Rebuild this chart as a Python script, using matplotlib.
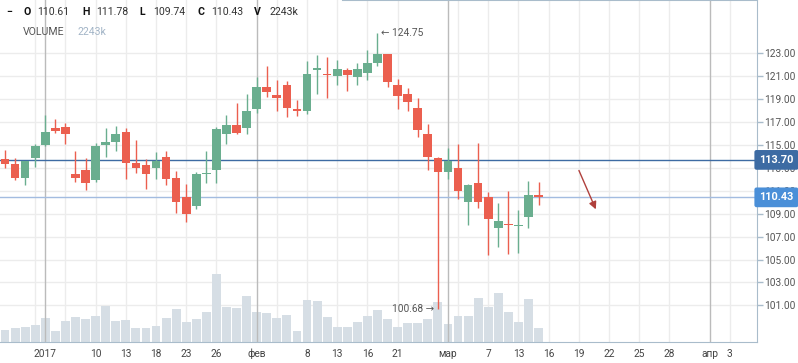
import numpy as np
import matplotlib
matplotlib.use("Agg")
import matplotlib.pyplot as plt
import matplotlib.transforms as mtransforms

plt.rcParams['font.family'] = ['Roboto', 'DejaVu Sans']

# --- данные (дневные свечи, торговые дни с конца дек. 2016 по 15 мар. 2017) ---
opens = [113.79, 113.35, 112.13, 113.85, 115.03, 116.49, 116.58, 112.48, 112.80, 111.95,
         115.03, 115.27, 116.14, 113.46, 113.26, 113.03, 113.96, 112.13, 110.47, 109.71,
         112.48, 112.85, 115.97, 116.76, 116.49, 118.15, 120.07, 119.38, 120.25, 118.15,
         117.98, 121.53, 121.21, 121.03, 121.56, 120.95, 121.30, 122.17, 122.96, 120.25,
         119.46, 118.24, 115.97, 113.87, 112.65, 113.00, 110.06, 111.69, 110.44, 107.79,
         108.11, 107.93, 108.75, 110.61]
highs = [114.57, 113.85, 113.64, 115.07, 117.66, 117.28, 116.93, 114.48, 113.87, 115.18,
         116.49, 116.67, 116.49, 115.45, 113.79, 114.40, 114.51, 112.74, 111.60, 112.65,
         114.48, 116.58, 117.63, 118.68, 119.46, 120.95, 121.91, 120.69, 120.60, 118.94,
         122.34, 122.87, 122.69, 122.43, 121.73, 122.17, 123.31, 124.75, 122.96, 120.77,
         119.99, 119.11, 116.84, 113.99, 114.75, 115.10, 111.60, 115.18, 110.90, 109.94,
         110.99, 109.33, 111.86, 111.78]
lows = [113.03, 111.95, 111.52, 113.09, 114.95, 116.03, 115.12, 111.75, 111.08, 111.78,
        113.96, 114.48, 112.04, 112.56, 111.19, 112.07, 111.54, 109.07, 108.28, 109.45,
        111.72, 111.72, 115.12, 115.97, 115.97, 117.80, 119.20, 117.98, 117.45, 117.54,
        117.72, 119.46, 119.11, 120.25, 119.72, 120.25, 120.69, 121.91, 120.07, 118.15,
        117.98, 115.71, 112.83, 100.68, 112.04, 110.32, 108.05, 109.53, 105.43, 106.13,
        105.51, 105.60, 107.79, 109.74]
closes = [113.38, 112.13, 113.64, 114.92, 116.14, 116.26, 116.00, 112.15, 111.72, 114.92,
          115.27, 115.97, 113.46, 113.00, 112.50, 113.64, 112.07, 110.03, 109.01, 112.48,
          112.56, 116.41, 116.76, 116.06, 117.98, 120.07, 119.64, 119.11, 118.24, 117.98,
          121.21, 121.71, 121.12, 121.65, 121.12, 121.65, 122.17, 122.96, 120.51, 119.29,
          118.76, 116.32, 113.96, 112.65, 113.64, 111.02, 111.52, 110.06, 108.57, 108.37,
          108.02, 108.02, 110.64, 110.43]
# объём, тыс.
volumes = [1915, 2243, 2407, 2735, 3884, 1751, 3392, 4048, 3720, 4212,
           5853, 3392, 3556, 2243, 2243, 2571, 3884, 5361, 3227, 3720,
           4869, 11105, 5689, 5525, 7494, 4869, 4705, 3884, 4376, 1751,
           6838, 6674, 4048, 2407, 2407, 3227, 4212, 5197, 3720, 2407,
           3063, 3063, 3720, 6510, 2899, 4212, 4212, 7166, 5689, 7987,
           4869, 3227, 7002, 2243]

# подписи оси X (индекс торгового дня -> подпись)
tick_pos = [4, 9, 12, 15, 18, 21, 25, 30, 33, 36, 39, 44, 48, 51, 54, 57, 60, 63, 66, 70, 72]
tick_labels = ['2017', '10', '13', '18', '23', '26', 'фев', '8', '13', '16', '21',
               'мар', '7', '13', '16', '19', '22', '25', '28', 'апр', '3']
month_pos = [4, 25, 44, 70]
grid_pos = [3, 6, 9, 12, 15, 18, 21, 27, 30, 33, 36, 39, 45, 48, 51, 54, 57, 60, 63, 66, 72]
price_ticks = [101, 103, 105, 107, 109, 111, 113, 115, 117, 119, 121, 123]

level_line = 113.70
last_close = closes[-1]
max_idx, min_idx = 37, 43
arrow_start = (56.9, 113.0)
arrow_end = (58.8, 109.16)

GREEN = '#6aae8f'
RED = '#eb5f4f'
AXIS_C = '#a9bccb'

W, H = 798, 363
fig = plt.figure(figsize=(W / 100, H / 100), dpi=100)
ax = fig.add_axes([0, 21 / H, 757 / W, 342 / H])

x = np.arange(len(opens))
o = np.array(opens); c = np.array(closes)
hi = np.array(highs); lo = np.array(lows)
vol = np.array(volumes)

# сетка
for p in grid_pos:
    ax.axvline(p, color='#ececec', lw=1, zorder=0.5)
for p in price_ticks:
    ax.axhline(p, color='#ececec', lw=1, zorder=0.5)

# объём внизу графика
trans = mtransforms.blended_transform_factory(ax.transData, ax.transAxes)
ax.bar(x, vol / vol.max() * 0.198, width=0.88, bottom=0, color='#d6dee5',
       transform=trans, zorder=1)

for p in month_pos:
    ax.axvline(p, color='#bbbbbb', lw=1, zorder=1.5)

# уровни
ax.axhline(level_line, color='#3d6ba3', lw=1, zorder=2)
ax.axhline(last_close, color='#a3bce0', lw=1, zorder=2)

# свечи
colors = np.where(c >= o, GREEN, RED)
ax.vlines(x, lo, hi, colors=colors, lw=1, zorder=3)
body = np.maximum(np.abs(c - o), 0.07)
ax.bar(x, body, bottom=np.minimum(o, c), width=0.86, color=colors, zorder=4)

ax.text(max_idx + 0.35, highs[max_idx], '← 124.75', ha='left', va='center',
        fontsize=7.3, color='#555555', zorder=5)
ax.text(min_idx - 0.35, lows[min_idx], '100.68 →', ha='right', va='center',
        fontsize=7.3, color='#555555', zorder=5)

ax.annotate('', xy=arrow_end, xytext=arrow_start,
            arrowprops=dict(arrowstyle='-|>', color='#b0403c', lw=1, mutation_scale=11))

ax.set_xlim(-0.5, 74.7)
ax.set_ylim(97.8, 127.66)

ax.yaxis.tick_right()
ax.set_yticks(price_ticks)
ax.set_yticklabels([f'{p:.2f}' for p in price_ticks])
ax.tick_params(axis='y', length=4, width=1, color=AXIS_C, labelsize=7.3,
               labelcolor='#555555', pad=1)
ax.set_xticks(tick_pos)
ax.set_xticklabels(tick_labels)
ax.tick_params(axis='x', length=0, labelsize=7.3, labelcolor='#444444', pad=5)

for s in ['left', 'top']:
    ax.spines[s].set_visible(False)
for s in ['right', 'bottom']:
    ax.spines[s].set_color(AXIS_C)
ax.plot([343 / 757, 1], [1, 1], transform=ax.transAxes, color=AXIS_C, lw=1.5, clip_on=False)

# метки цен справа
yt = ax.get_yaxis_transform()
ax.text(1.003, level_line, f'{level_line:.2f}', transform=yt, ha='left', va='center',
        color='white', fontsize=7.8, fontweight='bold', zorder=10, clip_on=False,
        bbox=dict(boxstyle='round,pad=0.45,rounding_size=0.2', fc='#3d6ba3', ec='none'))
ax.text(1.003, last_close, f'{last_close:.2f}', transform=yt, ha='left', va='center',
        color='white', fontsize=7.8, fontweight='bold', zorder=10, clip_on=False,
        bbox=dict(boxstyle='round,pad=0.45,rounding_size=0.2', fc='#4a8fd8', ec='none'))

# заголовок OHLCV
def ftxt(px, py, s, **kw):
    fig.text(px / W, 1 - py / H, s, va='center', fontsize=7.6, **kw)

ftxt(6, 12, '−', color='#111111', fontweight='bold')
header = [('O', opens[-1]), ('H', highs[-1]), ('L', lows[-1]), ('C', closes[-1])]
label_x = [23, 82, 139, 197]
for (name, val), px in zip(header, label_x):
    ftxt(px, 12, name, color='#111111', fontweight='bold')
    ftxt(px + 14, 12, f'{val:.2f}', color='#333333')
ftxt(254, 12, 'V', color='#111111', fontweight='bold')
ftxt(269, 12, f'{volumes[-1]}k', color='#333333')
ftxt(23, 32, 'VOLUME', color='#555555')
ftxt(77, 32, f'{volumes[-1]}k', color='#a3b5c7')

fig.savefig('out.png', dpi=100)
